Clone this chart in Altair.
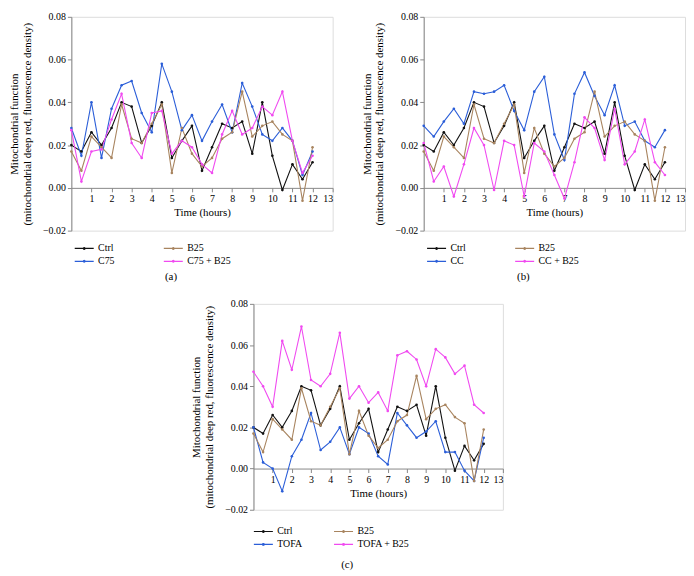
import altair as alt
import pandas as pd

hours = [0, 0.5, 1, 1.5, 2, 2.5, 3, 3.5, 4, 4.5, 5, 5.5, 6, 6.5, 7, 7.5, 8, 8.5, 9, 9.5, 10, 10.5, 11, 11.5, 12]

ctrl = [0.020, 0.017, 0.026, 0.020, 0.028, 0.040, 0.038, 0.021, 0.029, 0.040, 0.014, 0.022, 0.029, 0.008,
        0.019, 0.030, 0.028, 0.031, 0.016, 0.040, 0.015, -0.001, 0.011, 0.004, 0.012]
b25 = [0.017, 0.008, 0.024, 0.019, 0.014, 0.039, 0.023, 0.021, 0.030, 0.039, 0.007, 0.028, 0.016, 0.010,
       0.014, 0.023, 0.026, 0.045, 0.024, 0.029, 0.031, 0.025, 0.022, -0.006, 0.019]
c75 = [0.028, 0.015, 0.040, 0.014, 0.037, 0.048, 0.050, 0.035, 0.026, 0.058, 0.045, 0.027, 0.034, 0.022,
       0.031, 0.039, 0.026, 0.049, 0.038, 0.025, 0.022, 0.028, 0.022, 0.006, 0.017]
c75_b25 = [0.027, 0.003, 0.017, 0.018, 0.032, 0.044, 0.021, 0.014, 0.035, 0.036, 0.016, 0.022, 0.019, 0.011,
           0.007, 0.025, 0.036, 0.025, 0.028, 0.038, 0.034, 0.045, 0.022, 0.007, 0.015]
cc = [0.029, 0.024, 0.031, 0.037, 0.030, 0.045, 0.044, 0.045, 0.048, 0.036, 0.027, 0.045, 0.052, 0.025,
      0.013, 0.044, 0.054, 0.043, 0.034, 0.048, 0.029, 0.031, 0.022, 0.019, 0.027]
cc_b25 = [0.021, 0.003, 0.010, -0.004, 0.011, 0.028, 0.020, -0.001, 0.022, 0.020, -0.004, 0.021, 0.017, 0.006,
          -0.005, 0.012, 0.033, 0.028, 0.013, 0.037, 0.011, 0.017, 0.032, 0.012, 0.006]
tofa = [0.020, 0.003, 0.000, -0.011, 0.006, 0.014, 0.027, 0.009, 0.013, 0.020, 0.007, 0.020, 0.017, 0.006,
        0.002, 0.027, 0.021, 0.015, 0.018, 0.023, 0.008, 0.008, -0.001, -0.006, 0.015]
tofa_b25 = [0.047, 0.040, 0.030, 0.062, 0.048, 0.069, 0.043, 0.040, 0.046, 0.066, 0.034, 0.040, 0.032, 0.037,
            0.028, 0.055, 0.057, 0.053, 0.040, 0.058, 0.054, 0.046, 0.050, 0.031, 0.027]

x_ticks = list(range(1, 14))
y_ticks = [-0.02, 0.0, 0.02, 0.04, 0.06, 0.08]
# legend order (column-major in the legend grid): Ctrl, treatment, B25, treatment + B25
colors = ["#111111", "#2b5ed8", "#a8845f", "#f04af0"]
FONT = "Liberation Serif"
SYMBOL = "M-1.6,0H1.6M-0.15,0A0.15,0.15,0,1,1,0.15,0A0.15,0.15,0,1,1,-0.15,0"


def panel(names, series, caption, w, h, lx, ly, colpad, cap_off):
    rows = []
    for name, vals in zip(names, series):
        for t, v in zip(hours, vals):
            rows.append({"hour": t, "value": v, "series": name})
    df = pd.DataFrame(rows)
    return alt.Chart(df).mark_line(
        strokeWidth=1.1,
        point=alt.OverlayMarkDef(size=7, filled=True),
    ).encode(
        x=alt.X("hour:Q", scale=alt.Scale(domain=[0, 13], nice=False),
                axis=alt.Axis(values=x_ticks, offset=-h * 0.2, title="Time (hours)",
                              grid=False, tickSize=4, labelPadding=2, titlePadding=3,
                              titleFontWeight="normal")),
        y=alt.Y("value:Q", scale=alt.Scale(domain=[-0.02, 0.08], nice=False, zero=False),
                axis=alt.Axis(values=y_ticks, format=".2f", grid=False, tickSize=4,
                              title=["Mitochondrial function",
                                     "(mitochondrial deep red, fluorescence density)"],
                              titlePadding=10, titleFontWeight="normal")),
        color=alt.Color("series:N", scale=alt.Scale(domain=names, range=colors),
                        legend=alt.Legend(orient="none", legendX=lx, legendY=ly, columns=2,
                                          columnPadding=colpad, rowPadding=1, title=None,
                                          symbolType=SYMBOL, symbolSize=144,
                                          symbolStrokeWidth=1.2, labelOffset=7)),
        order="hour:Q",
    ).properties(
        width=w, height=h,
        title=alt.TitleParams(caption, orient="bottom", frame="bounds", anchor="middle",
                              fontSize=11, fontWeight="normal", font=FONT, offset=cap_off),
    )


pa = panel(["Ctrl", "C75", "B25", "C75 + B25"], [ctrl, c75, b25, c75_b25], "(a)",
           264, 216, 6, 227, 46, 5)
pb = panel(["Ctrl", "CC", "B25", "CC + B25"], [ctrl, cc, b25, cc_b25], "(b)",
           264, 216, 6, 227, 46, 5)
pc = panel(["Ctrl", "TOFA", "B25", "TOFA + B25"], [ctrl, tofa, b25, tofa_b25], "(c)",
           252, 208, 3, 223, 28, 10)

top = alt.hconcat(pa, pb, spacing=27).resolve_scale(color="independent")
chart = alt.vconcat(top, pc, spacing=15, center=True).resolve_scale(
    color="independent"
).properties(
    padding={"left": 0, "top": 0, "right": 0, "bottom": 0}
).configure_view(stroke=None).configure_axis(
    labelFont=FONT, titleFont=FONT, labelFontSize=11, titleFontSize=11,
    titleFontWeight="normal", labelColor="#222222", titleColor="#222222",
    domainColor="#333333", tickColor="#333333", titleLineHeight=15,
).configure_legend(
    labelFont=FONT, labelFontSize=11.5, labelColor="#222222",
).configure(font=FONT)

chart.save("out.html", embed_options={"renderer": "svg", "actions": False})
